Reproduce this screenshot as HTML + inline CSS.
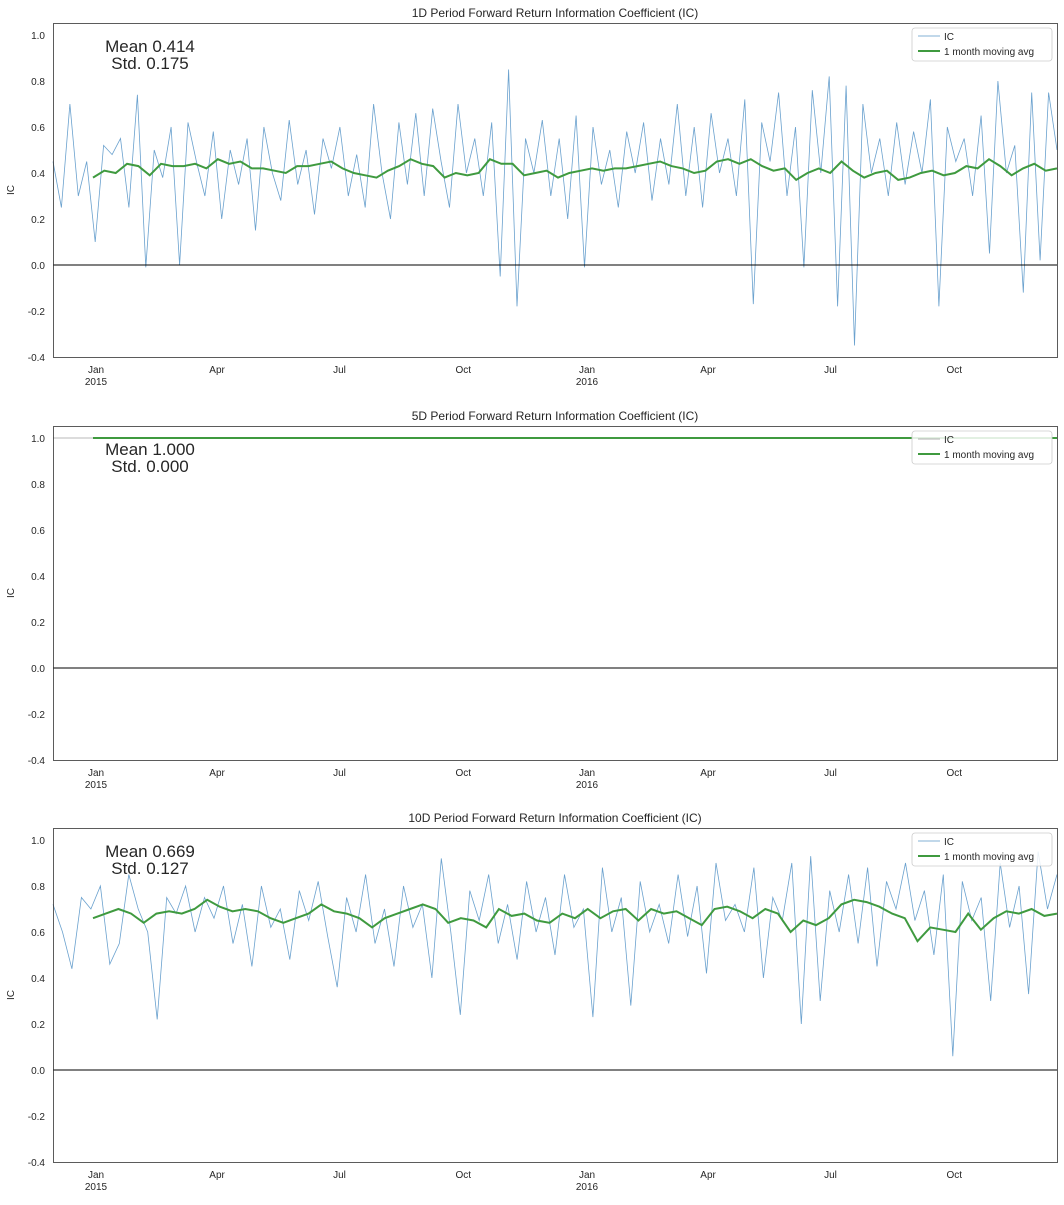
<!DOCTYPE html>
<html><head><meta charset="utf-8"><style>
body{margin:0;background:#fff;font-family:"Liberation Sans",sans-serif}
svg text{font-family:"Liberation Sans",sans-serif;fill:#262626}
</style></head><body>
<svg id="chart" width="1064" height="1200" xmlns="http://www.w3.org/2000/svg"></svg>
<script>
const titles=["1D Period Forward Return Information Coefficient (IC)","5D Period Forward Return Information Coefficient (IC)","10D Period Forward Return Information Coefficient (IC)"];
const means=["Mean 0.414","Mean 1.000","Mean 0.669"];
const stds=["Std. 0.175","Std. 0.000","Std. 0.127"];
const yTicks=[-0.4,-0.2,0.0,0.2,0.4,0.6,0.8,1.0];
const xTickLabels=["Jan","Apr","Jul","Oct","Jan","Apr","Jul","Oct"];
const xTickYears=["2015","","","","2016","","",""];
const xTickDays=[0,90,181,273,365,455,546,638];
const ic1=[0.45,0.25,0.70,0.30,0.45,0.10,0.52,0.48,0.55,0.25,0.74,-0.01,0.50,0.38,0.60,0.00,0.62,0.45,0.30,0.58,0.20,0.50,0.35,0.55,0.15,0.60,0.40,0.28,0.63,0.35,0.50,0.22,0.55,0.42,0.60,0.30,0.48,0.25,0.70,0.40,0.20,0.62,0.35,0.66,0.30,0.68,0.45,0.25,0.70,0.40,0.55,0.30,0.62,-0.05,0.85,-0.18,0.55,0.40,0.63,0.30,0.55,0.20,0.65,-0.01,0.60,0.35,0.50,0.25,0.58,0.40,0.62,0.28,0.55,0.35,0.70,0.30,0.60,0.25,0.66,0.40,0.55,0.30,0.72,-0.17,0.62,0.45,0.75,0.30,0.60,-0.01,0.76,0.40,0.82,-0.18,0.78,-0.35,0.70,0.40,0.55,0.30,0.62,0.35,0.58,0.40,0.72,-0.18,0.60,0.45,0.55,0.30,0.65,0.05,0.80,0.40,0.52,-0.12,0.75,0.02,0.75,0.50];
const ma1=[0.38,0.41,0.40,0.44,0.43,0.39,0.44,0.43,0.43,0.44,0.42,0.46,0.44,0.45,0.42,0.42,0.41,0.40,0.43,0.43,0.44,0.45,0.42,0.40,0.39,0.38,0.41,0.43,0.46,0.44,0.43,0.38,0.40,0.39,0.40,0.46,0.44,0.44,0.39,0.40,0.41,0.38,0.40,0.41,0.42,0.41,0.42,0.42,0.43,0.44,0.45,0.43,0.42,0.40,0.41,0.45,0.46,0.44,0.46,0.43,0.41,0.42,0.37,0.40,0.42,0.40,0.45,0.41,0.38,0.40,0.41,0.37,0.38,0.40,0.41,0.39,0.40,0.43,0.42,0.46,0.43,0.39,0.42,0.44,0.41,0.42];
const ic3=[0.72,0.60,0.44,0.75,0.70,0.80,0.46,0.55,0.85,0.70,0.60,0.22,0.75,0.68,0.80,0.60,0.75,0.66,0.80,0.55,0.72,0.45,0.80,0.62,0.70,0.48,0.78,0.65,0.82,0.58,0.36,0.75,0.60,0.85,0.55,0.70,0.45,0.80,0.62,0.72,0.40,0.92,0.60,0.24,0.78,0.65,0.85,0.55,0.72,0.48,0.82,0.60,0.75,0.50,0.85,0.62,0.70,0.23,0.88,0.60,0.75,0.28,0.82,0.60,0.72,0.55,0.85,0.58,0.80,0.42,0.90,0.65,0.72,0.60,0.88,0.40,0.75,0.65,0.90,0.20,0.93,0.30,0.78,0.60,0.85,0.55,0.88,0.45,0.82,0.70,0.90,0.65,0.78,0.50,0.85,0.06,0.82,0.65,0.75,0.30,0.90,0.62,0.80,0.33,0.95,0.70,0.85];
const ma3=[0.66,0.68,0.70,0.68,0.64,0.68,0.69,0.68,0.70,0.74,0.71,0.69,0.70,0.69,0.66,0.64,0.66,0.68,0.72,0.69,0.68,0.66,0.62,0.66,0.68,0.70,0.72,0.70,0.64,0.66,0.65,0.62,0.70,0.67,0.68,0.65,0.64,0.68,0.66,0.70,0.66,0.69,0.70,0.65,0.70,0.68,0.69,0.66,0.63,0.70,0.71,0.69,0.66,0.70,0.68,0.60,0.65,0.63,0.66,0.72,0.74,0.73,0.71,0.68,0.66,0.56,0.62,0.61,0.60,0.68,0.61,0.66,0.69,0.68,0.70,0.67,0.68];
const ic2=[1,1];
const ma2=[1,1];
const icSeries=[ic1,ic2,ic3];
const maSeries=[ma1,ma2,ma3];

const svg=document.getElementById('chart');
const NS="http://www.w3.org/2000/svg";
function el(t,a,p){const e=document.createElementNS(NS,t);for(const k in a)e.setAttribute(k,a[k]);(p||svg).appendChild(e);return e;}
const X0=53,X1=1057,JAN=96,PXDAY=491/365;
const panelTops=[23,426,828];
function xDay(d){return JAN+d*PXDAY;}
panelTops.forEach((top,p)=>{
  const bottom=top+334;
  const zero=top+242;
  const yS=v=>zero-v*230;
  const g=el('g',{});
  
  
  const t=el('text',{x:555,y:top-6,'text-anchor':'middle','font-size':12},g);t.textContent=titles[p];
  
  yTicks.forEach(v=>{const tt=el('text',{x:45,y:yS(v)+4,'text-anchor':'end','font-size':10},g);tt.textContent=v.toFixed(1);
    });
  const yl=el('text',{x:14,y:(top+bottom)/2,'text-anchor':'middle','font-size':10,transform:`rotate(-90 14 ${(top+bottom)/2})`},g);yl.textContent='IC';
  
  xTickDays.forEach((d,i)=>{const x=xDay(d);
    const tl=el('text',{x:x,y:bottom+16,'text-anchor':'middle','font-size':10},g);tl.textContent=xTickLabels[i];
    
    if(xTickYears[i]){const ty=el('text',{x:x,y:bottom+28,'text-anchor':'middle','font-size':10},g);ty.textContent=xTickYears[i];
      }
  });
  const ic=icSeries[p],ma=maSeries[p];
  const icPts=ic.map((v,i)=>`${(X0+i/(ic.length-1)*(X1-X0)).toFixed(1)},${yS(v).toFixed(1)}`).join(' ');
  const l1=el('polyline',{points:icPts,fill:'none',stroke:p==1?'#999':'#5a97c9','stroke-width':0.8,opacity:0.9},g);
  
  const mStart=93;
  const maPts=ma.map((v,i)=>`${(mStart+i/(ma.length-1)*(X1-mStart)).toFixed(1)},${yS(v).toFixed(1)}`).join(' ');
  const l2=el('polyline',{points:maPts,fill:'none',stroke:'#3f9a3f','stroke-width':2},g);
  
  const zl=el('line',{x1:X0,x2:X1,y1:zero,y2:zero,stroke:'#000','stroke-width':1},g);
  
  const fr=el('rect',{x:X0+0.5,y:top+0.5,width:X1-X0,height:334,fill:'none',stroke:'#333','stroke-width':0.8},g);
  
  const mt=el('text',{x:150,y:top+29,'text-anchor':'middle','font-size':17},g);mt.textContent=means[p];
  
  const st=el('text',{x:150,y:top+46,'text-anchor':'middle','font-size':17},g);st.textContent=stds[p];
  
  const lg=el('g',{},g);
  
  el('rect',{x:912,y:top+5,width:140,height:33,rx:3,fill:'#fff','fill-opacity':0.85,stroke:'#ccc','stroke-width':0.8},lg);
  el('line',{x1:918,x2:940,y1:top+13,y2:top+13,stroke:p==1?'#999':'#5a97c9','stroke-width':0.8},lg);
  const lt1=el('text',{x:944,y:top+17,'font-size':10},lg);lt1.textContent='IC';
  
  el('line',{x1:918,x2:940,y1:top+28,y2:top+28,stroke:'#3f9a3f','stroke-width':2},lg);
  const lt2=el('text',{x:944,y:top+32,'font-size':10},lg);lt2.textContent='1 month moving avg';
  
});
</script>
</body></html>
